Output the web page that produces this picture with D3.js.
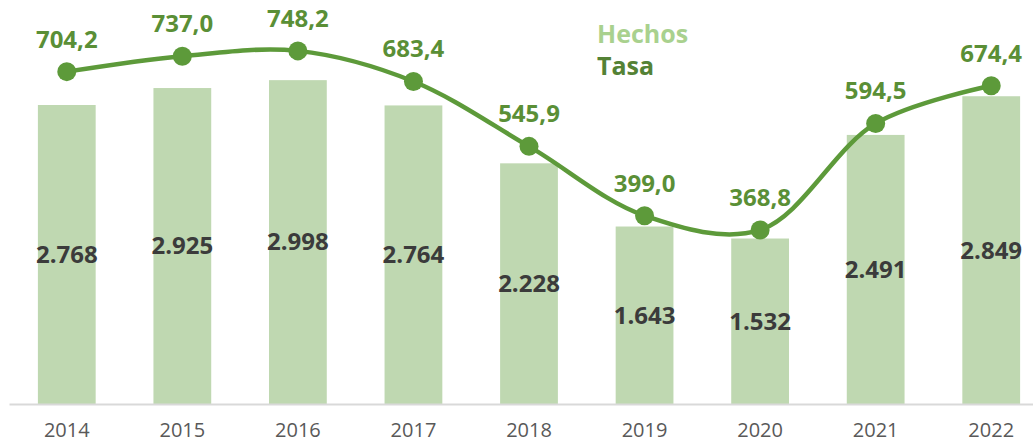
<!DOCTYPE html>
<html>
<head>
<meta charset="utf-8">
<script src="https://cdn.jsdelivr.net/npm/d3@7"></script>
<style>
  body { margin: 0; background: #fff; }
  svg { display: block; font-family: 'Open Sans', sans-serif; }
</style>
</head>
<body>
<div id="chart"></div>
<script>
const years = ['2014', '2015', '2016', '2017', '2018', '2019', '2020', '2021', '2022'];
const hechos = [2768, 2925, 2998, 2764, 2228, 1643, 1532, 2491, 2849];
const tasa = [704.2, 737.0, 748.2, 683.4, 545.9, 399.0, 368.8, 594.5, 674.4];
const seriesNames = ['Hechos', 'Tasa'];

const W = 1033;
const H = 443;
const baseY = 404;

const es = d3.formatLocale({ decimal: ',', thousands: '.', grouping: [3], currency: ['', ' €'] });
const fmtInt = es.format(',d');
const fmtDec = es.format(',.1f');

const svg = d3.select('#chart')
  .append('svg')
  .attr('width', W)
  .attr('height', H);

const x = d3.scaleBand()
  .domain(years)
  .range([9, 1049])
  .paddingInner(0.5)
  .paddingOuter(0.25);

// two independent value axes, both with zero at the baseline
const yBar = d3.scaleLinear().domain([0, 3740]).range([baseY, 0]);
const yLine = d3.scaleLinear().domain([0, 856]).range([baseY, 0]);

const cx = d => x(d) + x.bandwidth() / 2;

// bars
svg.append('g')
  .selectAll('rect')
  .data(years)
  .join('rect')
  .attr('x', d => x(d))
  .attr('width', x.bandwidth())
  .attr('y', (d, i) => yBar(hechos[i]))
  .attr('height', (d, i) => baseY - yBar(hechos[i]))
  .style('fill', '#bfd8b1');

// x axis
const axis = svg.append('g')
  .attr('transform', `translate(0, ${baseY})`)
  .call(d3.axisBottom(x).tickSize(0));
axis.select('.domain')
  .attr('stroke', '#d9d9d9')
  .attr('stroke-width', 2);
axis.selectAll('text')
  .attr('y', 33)
  .attr('dy', 0)
  .style('font-family', "'Open Sans', sans-serif")
  .style('font-size', '20px')
  .style('fill', '#595959');

// bar labels, centred in each bar
svg.append('g')
  .selectAll('text')
  .data(years)
  .join('text')
  .attr('x', d => cx(d))
  .attr('y', (d, i) => (yBar(hechos[i]) + baseY) / 2)
  .attr('dy', '0.35em')
  .style('text-anchor', 'middle')
  .style('font-size', '24px')
  .style('font-weight', 'bold')
  .style('fill', '#3b3b3b')
  .text((d, i) => fmtInt(hechos[i]));

// smoothed rate line
const line = d3.line()
  .x(d => cx(d))
  .y((d, i) => yLine(tasa[i]))
  .curve(d3.curveCatmullRom.alpha(0.5));

svg.append('path')
  .datum(years)
  .attr('d', line)
  .attr('fill', 'none')
  .attr('stroke', '#5d9a3a')
  .attr('stroke-width', 4.5);

svg.append('g')
  .selectAll('circle')
  .data(years)
  .join('circle')
  .attr('cx', d => cx(d))
  .attr('cy', (d, i) => yLine(tasa[i]))
  .attr('r', 9.5)
  .style('fill', '#5d9a3a');

svg.append('g')
  .selectAll('text')
  .data(years)
  .join('text')
  .attr('x', d => cx(d))
  .attr('y', (d, i) => yLine(tasa[i]) - 24)
  .style('text-anchor', 'middle')
  .style('font-size', '24px')
  .style('font-weight', 'bold')
  .style('fill', '#5a8f36')
  .text((d, i) => fmtDec(tasa[i]));

// legend
const legendColors = ['#a9d18e', '#548235'];
svg.append('g')
  .selectAll('text')
  .data(seriesNames)
  .join('text')
  .attr('x', 597)
  .attr('y', (d, i) => 43 + i * 32)
  .style('font-size', '25px')
  .style('font-weight', 'bold')
  .style('fill', (d, i) => legendColors[i])
  .text(d => d);
</script>
</body>
</html>
